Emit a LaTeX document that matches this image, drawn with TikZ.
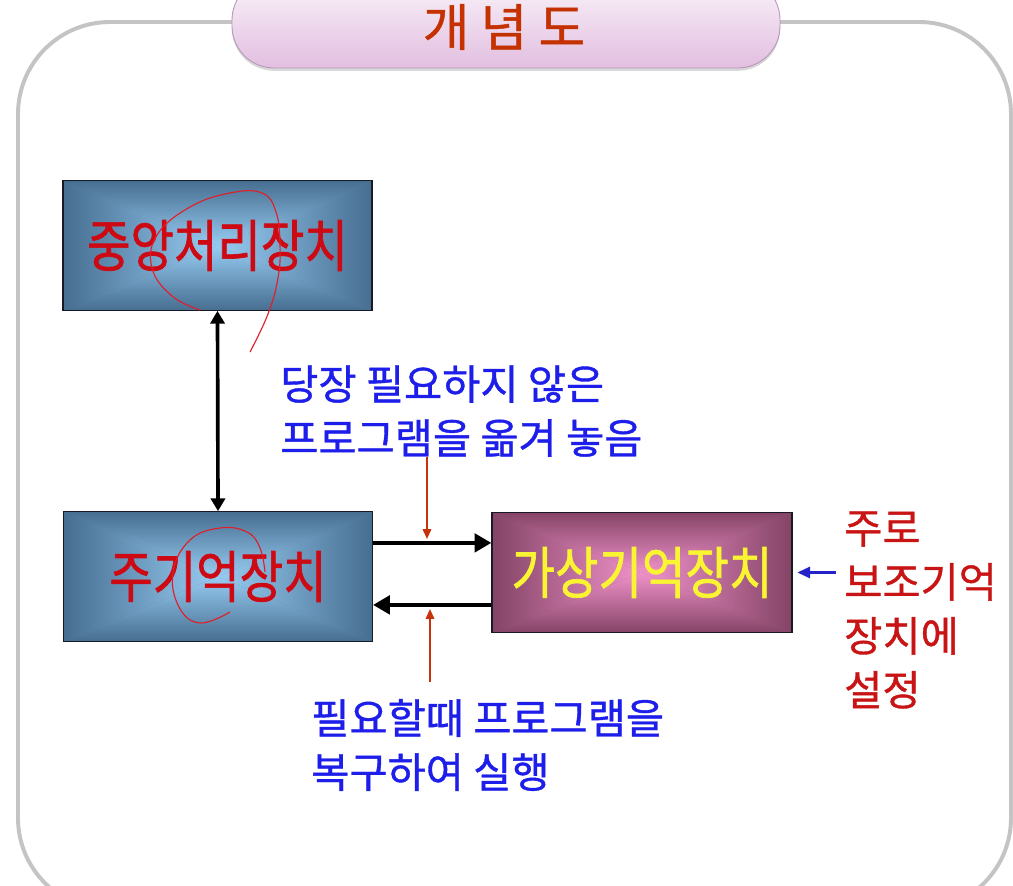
\documentclass[tikz,border=0pt]{standalone}
\usepackage{fontspec}
\usepackage{tikz}
\usetikzlibrary{arrows.meta, positioning, shadows}
\newfontfamily\kr{Noto Sans CJK KR}[FakeBold=0.9]
\newfontfamily\krbox{Noto Sans CJK KR}[FakeStretch=0.84, FakeBold=1.2]
\definecolor{myframe}{RGB}{196,196,196}
\definecolor{pilltop}{RGB}{250,244,250}
\definecolor{pillbot}{RGB}{226,190,224}
\definecolor{pillline}{RGB}{180,150,180}
\definecolor{titlered}{RGB}{195,50,0}
\definecolor{blueedge}{RGB}{70,110,145}
\definecolor{bluemid}{RGB}{152,204,242}
\definecolor{pinkedge}{RGB}{132,68,102}
\definecolor{pinkmid}{RGB}{240,146,202}
\definecolor{boxline}{RGB}{25,25,35}
\definecolor{boxred}{RGB}{205,10,20}
\definecolor{boxyellow}{RGB}{250,245,50}
\definecolor{noteblue}{RGB}{30,30,235}
\definecolor{notered}{RGB}{200,20,20}
\definecolor{arrowred}{RGB}{200,50,10}
\definecolor{arrowblue}{RGB}{35,35,200}
\definecolor{penred}{RGB}{225,30,40}
\tikzset{
  devbox/.style 2 args={rectangle, draw=boxline, line width=0.8pt,
    inner sep=0pt, minimum width=7.72cm, minimum height=3.24cm, fill=#1,
    font=\krbox\fontsize{40}{44}\selectfont,
    path picture={
      \path (path picture bounding box.center) coordinate (pc)
        (path picture bounding box.north west) coordinate (pnw)
        (path picture bounding box.north east) coordinate (pne)
        (path picture bounding box.south west) coordinate (psw)
        (path picture bounding box.south east) coordinate (pse);
      \shade[top color=#1, bottom color=#2] (pnw) -- (pne) -- (pc) -- cycle;
      \shade[top color=#2, bottom color=#1] (psw) -- (pse) -- (pc) -- cycle;
      \shade[left color=#1, right color=#2] (pnw) -- (psw) -- (pc) -- cycle;
      \shade[left color=#2, right color=#1] (pne) -- (pse) -- (pc) -- cycle;
    }},
  pill/.style={rounded corners=1.05cm, draw=pillline, line width=0.6pt,
    top color=pilltop, bottom color=pillbot,
    drop shadow={shadow xshift=0pt, shadow yshift=-2pt, fill=black!30}},
  titletext/.style={inner sep=1pt, font=\kr\fontsize{36}{40}\selectfont, text=titlered},
  note/.style={inner sep=0pt, align=left, font=\kr\fontsize{29.5}{38.4}\selectfont},
  fatarrow/.style={line width=3pt, color=black},
  redarrow/.style={-{Triangle[length=7pt,width=6pt]}, line width=1.3pt, color=arrowred},
  bluearrow/.style={-{Triangle[length=9pt,width=8pt]}, line width=1.5pt, color=arrowblue},
  pen/.style={line width=0.8pt, color=penred}
}
\begin{document}
\begin{tikzpicture}[x=0.025cm, y=-0.025cm]
  \clip (0,0) rectangle (1013,886);
  \fill[white] (0,0) rectangle (1013,886);

  % outer frame and title
  \draw[line width=2.8pt, color=myframe, rounded corners=2.3cm] (18,22) rectangle (1011,910);
  \draw[pill] (232,-22) rectangle (780,68);
  \node[titletext] (title) at (504,27) {개 념 도};

  % devices
  \node[devbox={blueedge}{bluemid}, text=boxred] (cpu) at (217.5,245.5) {중앙처리장치};
  \node[devbox={blueedge}{bluemid}, text=boxred] (mem) at (218,576.5) {주기억장치};
  \node[devbox={pinkedge}{pinkmid}, text=boxyellow, minimum width=7.5cm,
    minimum height=3.02cm] (vmem) at (642,572.5) {가상기억장치};

  % notes
  \node[note, text=noteblue, anchor=west] (swapout) at (280,411)
    {당장 필요하지 않은\\프로그램을 옮겨 놓음};
  \node[note, text=noteblue, anchor=west] (swapin) at (311,745)
    {필요할때 프로그램을\\복구하여 실행};
  \node[note, text=notered, anchor=west] (where) at (844,610)
    {주로\\보조기억\\장치에\\설정};

  % transfers
  \draw[fatarrow, {Triangle[length=9pt,width=10pt]}-{Triangle[length=9pt,width=10pt]}, line width=2.6pt]
    (cpu.south) -- (mem.north);
  \draw[fatarrow, -{Triangle[length=12pt,width=13pt]}]
    ([yshift=0.84cm]mem.east) -- ([yshift=0.84cm]mem.east -| vmem.west);
  \draw[fatarrow, -{Triangle[length=12pt,width=13pt]}]
    ([yshift=-0.71cm]mem.east -| vmem.west) -- ([yshift=-0.71cm]mem.east);

  \coordinate (outtip) at (427,539);
  \coordinate (intip) at (430,609);
  \coordinate (instart) at (430,682);
  \draw[redarrow] (outtip |- swapout.south) -- (outtip);
  \draw[redarrow] (instart) -- (intip);
  \draw[bluearrow] ([xshift=-0.2cm]where.west |- vmem.east) -- ([xshift=0.12cm]vmem.east);

  % pen marks
  \draw[pen] plot[smooth, tension=0.7] coordinates {(200,310) (172,296) (152,268) (157,235)
    (190,207) (230,193) (262,193) (276,212) (280,245) (278,278) (268,314) (250,352)};
  \draw[pen] plot[smooth, tension=0.7] coordinates {(230,612) (200,623) (179,607) (173,572)
    (190,540) (220,528) (247,532) (260,548) (265,572)};
\end{tikzpicture}
\end{document}
